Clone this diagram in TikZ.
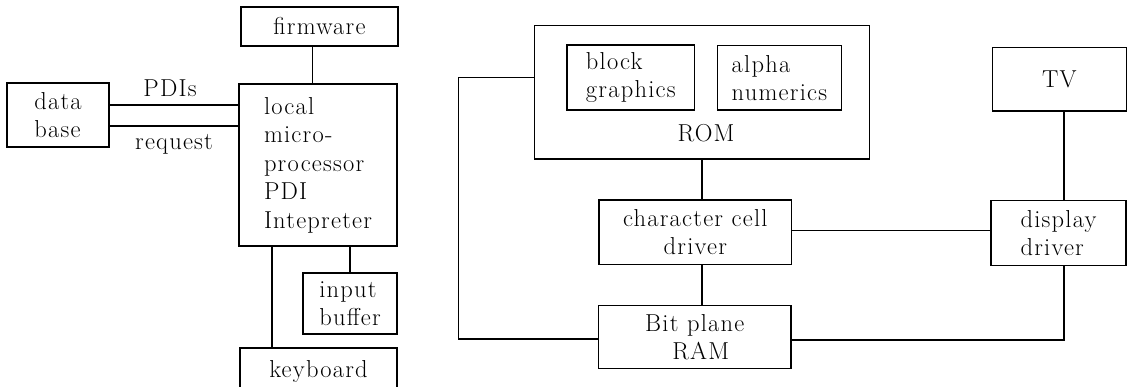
\documentclass[tikz,border=0pt]{standalone}
\usepackage{fontspec}
\setmainfont{Latin Modern Roman}[LetterSpace=5]
\begin{document}
\begin{tikzpicture}[x=1pt,y=-1pt,
  line width=1.3pt,
  every node/.style={font=\fontsize{24.5}{28.5}\selectfont},
  blk/.style={draw, rectangle, inner sep=0pt, align=left},
  blkc/.style={draw, rectangle, inner sep=0pt, align=center},
  tag/.style={inner sep=0pt}]
\clip (0,0) rectangle (1128,387);

% left subsystem
\node[blk, minimum width=102, minimum height=64] (db) at (58,115) {data\\base};
\node[blk, minimum width=157, minimum height=39] (fw) at (319.5,26.5) {firmware};
\node[blk, minimum width=158, minimum height=162] (lp) at (318,165)
  {local\\micro-\\processor\\PDI\\Intepreter};
\node[blk, minimum width=94, minimum height=61] (ib) at (350,303.5) {input\\buffer};
\node[blk, minimum width=157, minimum height=46] (kb) at (318.5,371) {keyboard};

\node[tag] (pdis) at (170,88) {PDIs};
\node[tag] (req) at (174,144) {request};

\draw ([yshift=10pt]db.east) -- ([yshift=10pt]db.east -| lp.west);
\draw ([yshift=-11pt]db.east) -- ([yshift=-11pt]db.east -| lp.west);
\draw ([xshift=-7pt]fw.south) -- ([xshift=-7pt]fw.south |- lp.north);
\coordinate (kbx) at (272,0);
\draw (lp.south -| kbx) -- (kb.north -| kbx);
\draw (ib.north) -- (ib.north |- lp.south);

% right subsystem
\node[blk, minimum width=334.5, minimum height=133.3] (rom) at (702,92.3) {};
\node[tag] (romtxt) at (706,133) {ROM};
\node[blk, minimum width=127.6, minimum height=65] (bg) at (630.8,77.5) {block\\graphics};
\node[blk, minimum width=123.8, minimum height=64.3] (an) at (779.4,77.9) {alpha\\numerics};
\node[blkc, minimum width=134, minimum height=63.7] (tv) at (1059.4,79.2) {TV};
\node[blkc, minimum width=192.5, minimum height=64.7] (cc) at (695.3,232.3) {character cell\\driver};
\node[blk, minimum width=135, minimum height=65] (dd) at (1058.5,233.2) {display\\driver};
\node[blkc, minimum width=192.4, minimum height=62.6] (ram) at (694.8,337) {Bit plane\\\hspace*{12pt}RAM};

\coordinate (loopx) at (458.5,0);
\coordinate (rx) at (1064,0);
\draw (rom.south) -- (rom.south |- cc.north);
\draw (cc.south -| rom.south) -- (ram.north -| rom.south);
\draw ([yshift=2pt]cc.east) -- ([yshift=2pt]cc.east -| dd.west);
\draw (tv.south -| rx) -- (dd.north -| rx);
\draw ([yshift=-3pt]ram.east) -| (dd.south -| rx);
\draw ([yshift=15pt]rom.west) -- ([yshift=15pt]rom.west -| loopx) |- ([yshift=-2pt]ram.west);
\end{tikzpicture}
\end{document}
